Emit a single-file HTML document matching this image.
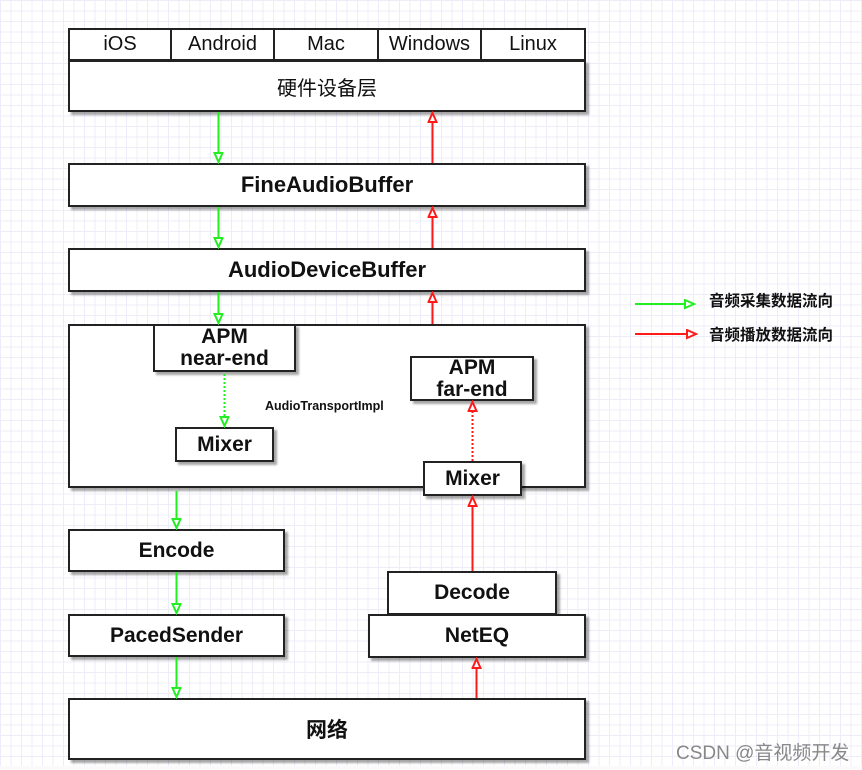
<!DOCTYPE html>
<html><head><meta charset="utf-8"><style>
html,body{margin:0;padding:0}
body{width:862px;height:770px;position:relative;overflow:hidden;background:#fafafa;font-family:"Liberation Sans","Noto Sans CJK SC",sans-serif}
#grid{position:absolute;left:0;top:0;width:862px;height:766px;background-color:#fff;
background-image:linear-gradient(to right,#ededfa 1px,transparent 1px),linear-gradient(to bottom,#ededfa 1px,transparent 1px);background-size:10.5px 10.5px}
.b{position:absolute;box-sizing:border-box;border:2px solid #222;background:#fff;box-shadow:3px 3px 2px rgba(0,0,0,0.35);display:flex;align-items:center;justify-content:center;text-align:center;color:#111}
.bold{font-weight:bold;font-size:21px}
.t{position:absolute;white-space:nowrap;color:#111}
svg{position:absolute;left:0;top:0}
</style></head><body>
<div id="grid"></div>

<div class="b" style="left:68px;top:60px;width:518px;height:52px;font-size:20px">硬件设备层</div>
<div class="b" style="left:68px;top:28px;width:104px;height:33px;font-size:20px;box-shadow:none">iOS</div>
<div class="b" style="left:170px;top:28px;width:105px;height:33px;font-size:20px;box-shadow:none">Android</div>
<div class="b" style="left:273px;top:28px;width:106px;height:33px;font-size:20px;box-shadow:none">Mac</div>
<div class="b" style="left:377px;top:28px;width:105px;height:33px;font-size:20px;box-shadow:none">Windows</div>
<div class="b" style="left:480px;top:28px;width:106px;height:33px;font-size:20px;box-shadow:none">Linux</div>

<div class="b bold" style="left:68px;top:163px;width:518px;height:44px;font-size:22px">FineAudioBuffer</div>
<div class="b bold" style="left:68px;top:248px;width:518px;height:44px;font-size:22px">AudioDeviceBuffer</div>

<div class="b" style="left:68px;top:324px;width:518px;height:164px"></div>
<div class="b bold" style="left:153px;top:324px;width:143px;height:48px;line-height:22px">APM<br>near-end</div>
<div class="b bold" style="left:175px;top:427px;width:99px;height:35px">Mixer</div>
<div class="t" style="left:265px;top:399px;font-size:12.5px;font-weight:bold">AudioTransportImpl</div>
<div class="b bold" style="left:410px;top:356px;width:124px;height:45px;line-height:22px">APM<br>far-end</div>
<div class="b bold" style="left:423px;top:461px;width:99px;height:35px">Mixer</div>

<div class="b bold" style="left:68px;top:529px;width:217px;height:43px">Encode</div>
<div class="b bold" style="left:68px;top:614px;width:217px;height:43px">PacedSender</div>
<div class="b bold" style="left:387px;top:571px;width:170px;height:44px">Decode</div>
<div class="b bold" style="left:368px;top:614px;width:218px;height:44px">NetEQ</div>
<div class="b bold" style="left:68px;top:698px;width:518px;height:62px">网络</div>

<div class="t" style="left:709px;top:289px;font-size:15.5px;font-weight:bold">音频采集数据流向</div>
<div class="t" style="left:709px;top:323px;font-size:15.5px;font-weight:bold">音频播放数据流向</div>
<div class="t" style="left:676px;top:738px;font-size:19px;color:#888">CSDN @音视频开发</div>

<svg width="862" height="770" viewBox="0 0 862 770">
<defs>
<marker id="g" markerWidth="12" markerHeight="12" refX="10" refY="5" orient="auto" markerUnits="userSpaceOnUse"><path d="M1,1 L10,5 L1,9 Z" fill="#fff" stroke="#22ee22" stroke-width="2"/></marker>
<marker id="r" markerWidth="12" markerHeight="12" refX="10" refY="5" orient="auto" markerUnits="userSpaceOnUse"><path d="M1,1 L10,5 L1,9 Z" fill="#fff" stroke="#ff1a1a" stroke-width="2"/></marker>
</defs>
<g stroke="#22ee22" stroke-width="2" fill="none">
<line x1="218.5" y1="112" x2="218.5" y2="162" marker-end="url(#g)"/>
<line x1="218.5" y1="207" x2="218.5" y2="247" marker-end="url(#g)"/>
<line x1="218.5" y1="292" x2="218.5" y2="323" marker-end="url(#g)"/>
<line x1="224.5" y1="374" x2="224.5" y2="426" stroke-dasharray="2,2" marker-end="url(#g)"/>
<line x1="176.5" y1="491" x2="176.5" y2="528" marker-end="url(#g)"/>
<line x1="176.5" y1="572" x2="176.5" y2="613" marker-end="url(#g)"/>
<line x1="176.5" y1="657" x2="176.5" y2="697" marker-end="url(#g)"/>
<line x1="635" y1="304" x2="694" y2="304" marker-end="url(#g)"/>
</g>
<g stroke="#ff1a1a" stroke-width="2" fill="none">
<line x1="432.5" y1="163" x2="432.5" y2="113" marker-end="url(#r)"/>
<line x1="432.5" y1="248" x2="432.5" y2="208" marker-end="url(#r)"/>
<line x1="432.5" y1="324" x2="432.5" y2="293" marker-end="url(#r)"/>
<line x1="472.5" y1="461" x2="472.5" y2="402" stroke-dasharray="2,2" marker-end="url(#r)"/>
<line x1="472.5" y1="571" x2="472.5" y2="497" marker-end="url(#r)"/>
<line x1="476.5" y1="698" x2="476.5" y2="659" marker-end="url(#r)"/>
<line x1="635" y1="334" x2="696" y2="334" marker-end="url(#r)"/>
</g>
</svg>
</body></html>
